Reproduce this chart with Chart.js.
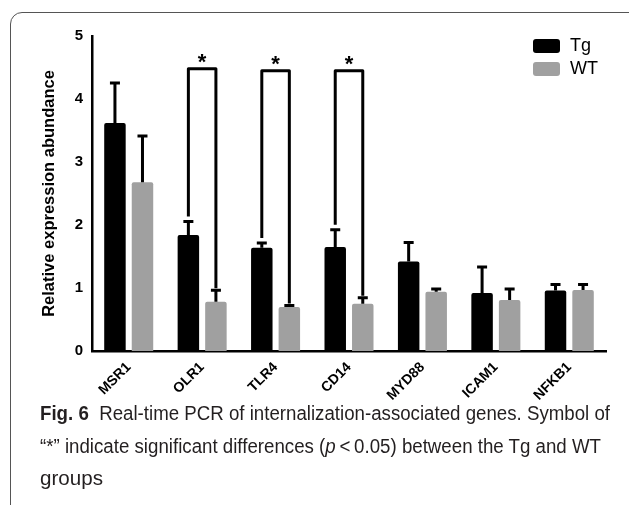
<!DOCTYPE html>
<html>
<head>
<meta charset="utf-8">
<script src="https://cdn.jsdelivr.net/npm/chart.js@4"></script>
<style>
  html, body { margin: 0; padding: 0; background: #fff; }
  #wrap { position: relative; width: 629px; height: 505px; overflow: hidden; }
  #frame { position: absolute; left: 10px; top: 12px; width: 640px; height: 520px;
           border: 1.5px solid #555; border-radius: 12px; box-sizing: border-box; }
  #chartBox { position: absolute; left: 0; top: 0; width: 629px; height: 505px; }
  #caption { position: absolute; left: 40px; top: 397px;
             font-family: "Liberation Sans", Arial, sans-serif;
             font-size: 20px; line-height: 32.5px; color: #231f20; white-space: nowrap; }
  #caption div { transform-origin: 0 50%; width: max-content; }
</style>
</head>
<body>
<div id="wrap">
  <div id="frame"></div>
  <div id="chartBox"><canvas id="chart" width="629" height="505"></canvas></div>
  <div id="caption">
    <div data-w="570"><b>Fig. 6</b>&nbsp; Real-time PCR of internalization-associated genes. Symbol of</div>
    <div data-w="561">“*” indicate significant differences (<i>p</i>&thinsp;&lt;&thinsp;0.05) between the Tg and WT</div>
    <div data-w="63">groups</div>
  </div>
</div>
<script>
const genes = ['MSR1', 'OLR1', 'TLR4', 'CD14', 'MYD88', 'ICAM1', 'NFKB1'];
const tgValues = [3.62, 1.84, 1.64, 1.65, 1.42, 0.92, 0.96];
const tgErrors = [0.65, 0.23, 0.09, 0.29, 0.32, 0.43, 0.11];
const wtValues = [2.68, 0.78, 0.70, 0.75, 0.94, 0.81, 0.97];
const wtErrors = [0.75, 0.20, 0.04, 0.11, 0.06, 0.19, 0.10];
const yTicks = [0, 1, 2, 3, 4, 5];

// significance brackets: category index and bracket height
const sigGenes = [1, 2, 3];
const sigHeights = [4.48, 4.45, 4.45];

// squeeze caption lines to the reference line widths
document.querySelectorAll('#caption div').forEach(el => {
  const w = el.getBoundingClientRect().width;
  el.style.transform = 'scaleX(' + (Number(el.dataset.w) / w) + ')';
});

const errorBars = {
  id: 'errorBars',
  afterDatasetsDraw(chart) {
    const ctx = chart.ctx;
    const y = chart.scales.y;
    const errs = [tgErrors, wtErrors];
    ctx.save();
    ctx.strokeStyle = '#000';
    ctx.lineWidth = 3;
    ctx.lineCap = 'butt';
    chart.data.datasets.forEach((ds, d) => {
      chart.getDatasetMeta(d).data.forEach((bar, i) => {
        const top = y.getPixelForValue(ds.data[i]);
        const end = y.getPixelForValue(ds.data[i] + errs[d][i]);
        ctx.beginPath();
        ctx.moveTo(bar.x, top);
        ctx.lineTo(bar.x, end);
        ctx.moveTo(bar.x - 5, end + 1);
        ctx.lineTo(bar.x + 5, end + 1);
        ctx.stroke();
      });
    });

    // brackets
    const tgMeta = chart.getDatasetMeta(0).data;
    const wtMeta = chart.getDatasetMeta(1).data;
    ctx.lineJoin = 'round';
    sigGenes.forEach((g, k) => {
      const yTop = y.getPixelForValue(sigHeights[k]);
      const yL = y.getPixelForValue(tgValues[g] + tgErrors[g]) - 4;
      const yR = y.getPixelForValue(wtValues[g] + wtErrors[g]) - 1;
      ctx.beginPath();
      ctx.moveTo(tgMeta[g].x, yL);
      ctx.lineTo(tgMeta[g].x, yTop);
      ctx.lineTo(wtMeta[g].x, yTop);
      ctx.lineTo(wtMeta[g].x, yR);
      ctx.stroke();
      ctx.fillStyle = '#000';
      ctx.font = 'bold 22px "Liberation Sans", Arial, sans-serif';
      ctx.textAlign = 'center';
      ctx.textBaseline = 'middle';
      ctx.fillText('*', (tgMeta[g].x + wtMeta[g].x) / 2, yTop - 6);
    });

    // legend
    const items = [['Tg', '#000000'], ['WT', '#a0a0a0']];
    ctx.font = '18px "Liberation Sans", Arial, sans-serif';
    ctx.textAlign = 'left';
    ctx.textBaseline = 'middle';
    items.forEach((it, k) => {
      const ly = 39 + k * 23;
      ctx.fillStyle = it[1];
      ctx.beginPath();
      ctx.roundRect(533, ly, 27, 14, 3);
      ctx.fill();
      ctx.fillStyle = '#000';
      ctx.fillText(it[0], 570, ly + 7.5);
    });
    ctx.restore();
  }
};

new Chart(document.getElementById('chart'), {
  type: 'bar',
  data: {
    labels: genes,
    datasets: [
      { label: 'Tg', data: tgValues, backgroundColor: '#000000', borderRadius: 2,
        categoryPercentage: 0.75, barPercentage: 0.78 },
      { label: 'WT', data: wtValues, backgroundColor: '#a0a0a0', borderRadius: 2,
        categoryPercentage: 0.75, barPercentage: 0.78 }
    ]
  },
  options: {
    responsive: false,
    animation: false,
    devicePixelRatio: 1,
    layout: { padding: { top: 36, left: 36, right: 23, bottom: 94 } },
    plugins: { legend: { display: false }, tooltip: { enabled: false } },
    scales: {
      x: {
        grid: { display: false, drawTicks: true, tickLength: 6, tickWidth: 2, tickColor: '#000' },
        border: { display: true, color: '#000', width: 2.5 },
        ticks: {
          color: '#000', maxRotation: 45, minRotation: 45, padding: 2,
          font: { family: '"Liberation Sans", Arial, sans-serif', size: 14, weight: 'bold' }
        },
        afterFit(s) { s.height = 60; }
      },
      y: {
        min: 0, max: 5,
        afterBuildTicks(s) { s.ticks = yTicks.map(v => ({ value: v })); },
        grid: { display: false, drawTicks: true, tickLength: 6, tickWidth: 2, tickColor: '#000' },
        border: { display: true, color: '#000', width: 2.5 },
        ticks: {
          color: '#000', padding: 3,
          font: { family: '"Liberation Sans", Arial, sans-serif', size: 15, weight: 'bold' }
        },
        title: {
          display: true, text: 'Relative expression abundance', color: '#000',
          padding: { top: 4, bottom: 0 },
          font: { family: '"Liberation Sans", Arial, sans-serif', size: 16.5, weight: 'bold' }
        },
        afterFit(s) { s.width = 56; }
      }
    }
  },
  plugins: [errorBars]
});
</script>
</body>
</html>
